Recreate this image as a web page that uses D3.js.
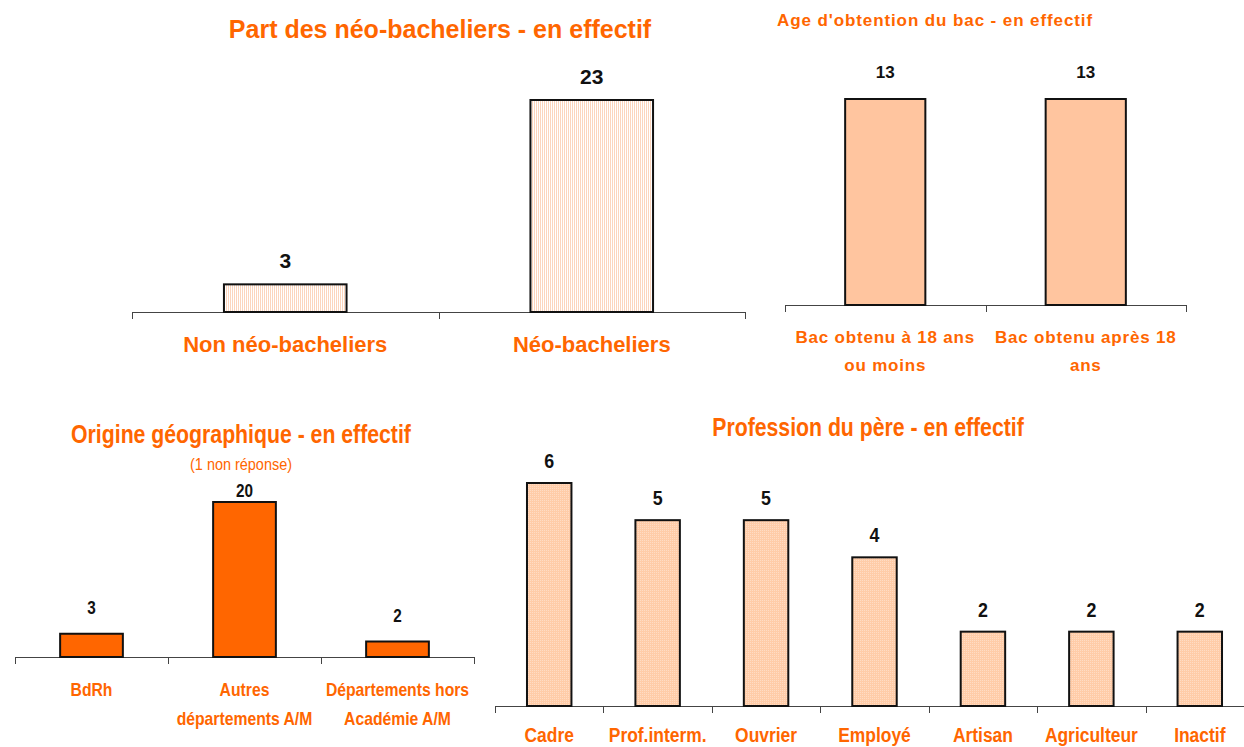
<!DOCTYPE html>
<html>
<head>
<meta charset="utf-8">
<script src="https://cdn.jsdelivr.net/npm/d3@7"></script>
<style>
  body { margin: 0; background: #fff; }
  svg { font-family: "Liberation Sans", Arial, sans-serif; }
</style>
</head>
<body>
<div id="chart"></div>
<script>
// data
var neoCats = ["Non néo-bacheliers", "Néo-bacheliers"];
var neoVals = [3, 23];

var ageCats = [["Bac obtenu à 18 ans", "ou moins"], ["Bac obtenu après 18", "ans"]];
var ageVals = [13, 13];

var origCats = [["BdRh"], ["Autres", "départements A/M"], ["Départements hors", "Académie A/M"]];
var origVals = [3, 20, 2];

var profCats = ["Cadre", "Prof.interm.", "Ouvrier", "Employé", "Artisan", "Agriculteur", "Inactif"];
var profVals = [6, 5, 5, 4, 2, 2, 2];

var orange = "#ff6600";
var NARROW = 0.85; // horizontal squeeze to mimic Arial Narrow

var svg = d3.select("#chart").append("svg")
  .attr("width", 1244)
  .attr("height", 747);

var defs = svg.append("defs");
// vertical hairline stripes (chart 1)
var p1 = defs.append("pattern").attr("id", "stripes")
  .attr("patternUnits", "userSpaceOnUse").attr("width", 2).attr("height", 2);
p1.append("rect").attr("width", 2).attr("height", 2).attr("fill", "#fff");
p1.append("rect").attr("width", 1).attr("height", 2).attr("fill", "#fcd5bd");
// fine dots (chart 4)
var p2 = defs.append("pattern").attr("id", "dots")
  .attr("patternUnits", "userSpaceOnUse").attr("width", 2).attr("height", 2);
p2.append("rect").attr("width", 2).attr("height", 2).attr("fill", "#ffcca8");
p2.append("rect").attr("width", 1).attr("height", 1).attr("fill", "#ffdcc4");

// text helper: lines centred at (x, y), optionally squeezed
function label(g, x, y, lines, o) {
  var sx = o.narrow ? NARROW : 1;
  var t = g.append("text")
    .attr("transform", "translate(" + x + "," + y + ") scale(" + sx + ",1)")
    .attr("text-anchor", "middle")
    .attr("font-weight", o.bold ? "bold" : "normal")
    .attr("font-size", o.size)
    .attr("letter-spacing", o.spacing || 0)
    .attr("fill", o.color || orange);
  lines.forEach(function (l, k) {
    t.append("tspan").attr("x", 0).attr("y", k * (o.line || 0)).text(l);
  });
  return t;
}

// generic bar chart
function barChart(opt) {
  var g = svg.append("g");
  var x = d3.scaleBand().domain(d3.range(opt.values.length)).range(opt.xRange).padding(0);
  var y = d3.scaleLinear().domain([0, opt.max]).range(opt.yRange);
  var bw = x.bandwidth() * opt.barFrac;

  // axis line + ticks at band edges
  g.append("line")
    .attr("x1", opt.xRange[0]).attr("x2", opt.xRange[1])
    .attr("y1", y(0) + 0.5).attr("y2", y(0) + 0.5)
    .attr("stroke", "#444").attr("stroke-width", 1);
  var edges = d3.range(opt.values.length).map(function (i) { return x(i); }).concat([opt.xRange[1]]);
  g.selectAll(".tick").data(edges).enter().append("line")
    .attr("x1", function (d) { return Math.round(d) + 0.5; })
    .attr("x2", function (d) { return Math.round(d) + 0.5; })
    .attr("y1", y(0)).attr("y2", y(0) + 7)
    .attr("stroke", "#444");

  g.selectAll("rect.bar").data(opt.values).enter().append("rect")
    .attr("class", "bar")
    .attr("x", function (d, i) { return x(i) + x.bandwidth() / 2 - bw / 2; })
    .attr("y", function (d) { return y(d); })
    .attr("width", bw)
    .attr("height", function (d) { return y(0) - y(d); })
    .attr("fill", opt.fill)
    .attr("stroke", "#111").attr("stroke-width", 2);

  opt.values.forEach(function (d, i) {
    label(g, x(i) + x.bandwidth() / 2, Math.max(y(d) - opt.valOffset, opt.valMinY || 0), [d],
      { size: opt.valSize, bold: true, narrow: opt.narrow, color: "#111" });
  });

  opt.cats.forEach(function (c, i) {
    label(g, x(i) + x.bandwidth() / 2, opt.catY, Array.isArray(c) ? c : [c],
      { size: opt.catSize, bold: true, narrow: opt.narrow, spacing: opt.catSpacing, line: opt.catLine });
  });

  opt.titles.forEach(function (tt) {
    label(g, tt.x, tt.y, [tt.text], tt);
  });
}

// Part des néo-bacheliers
barChart({
  values: neoVals, cats: neoCats, max: 23,
  xRange: [132, 745], yRange: [312, 100], barFrac: 0.4,
  fill: "url(#stripes)", valOffset: 16, valSize: 21,
  catY: 352, catLine: 0, catSize: 22,
  titles: [{ text: "Part des néo-bacheliers - en effectif", x: 440, y: 38, size: 25, bold: true }]
});

// Age d'obtention du bac
barChart({
  values: ageVals, cats: ageCats, max: 13,
  xRange: [785, 1186], yRange: [305, 99], barFrac: 0.4,
  fill: "#ffc59f", valOffset: 21, valSize: 17,
  catY: 343, catLine: 28, catSize: 17, catSpacing: 0.8,
  titles: [{ text: "Age d'obtention du bac - en effectif", x: 935, y: 26, size: 17, bold: true, spacing: 0.9 }]
});

// Origine géographique
barChart({
  values: origVals, cats: origCats, max: 20,
  xRange: [15, 474], yRange: [657, 502], barFrac: 0.41, narrow: true,
  fill: orange, valOffset: 20, valMinY: 497, valSize: 18,
  catY: 696, catLine: 29, catSize: 18.5,
  titles: [
    { text: "Origine géographique - en effectif", x: 241, y: 443, size: 25, bold: true, narrow: true },
    { text: "(1 non réponse)", x: 241, y: 470, size: 17, narrow: true }
  ]
});

// Profession du père
barChart({
  values: profVals, cats: profCats, max: 6,
  xRange: [495, 1254], yRange: [706, 483], barFrac: 0.41, narrow: true,
  fill: "url(#dots)", valOffset: 15, valSize: 21,
  catY: 742, catLine: 0, catSize: 20.5,
  titles: [{ text: "Profession du père - en effectif", x: 868, y: 436, size: 25, bold: true, narrow: true }]
});
</script>
</body>
</html>
